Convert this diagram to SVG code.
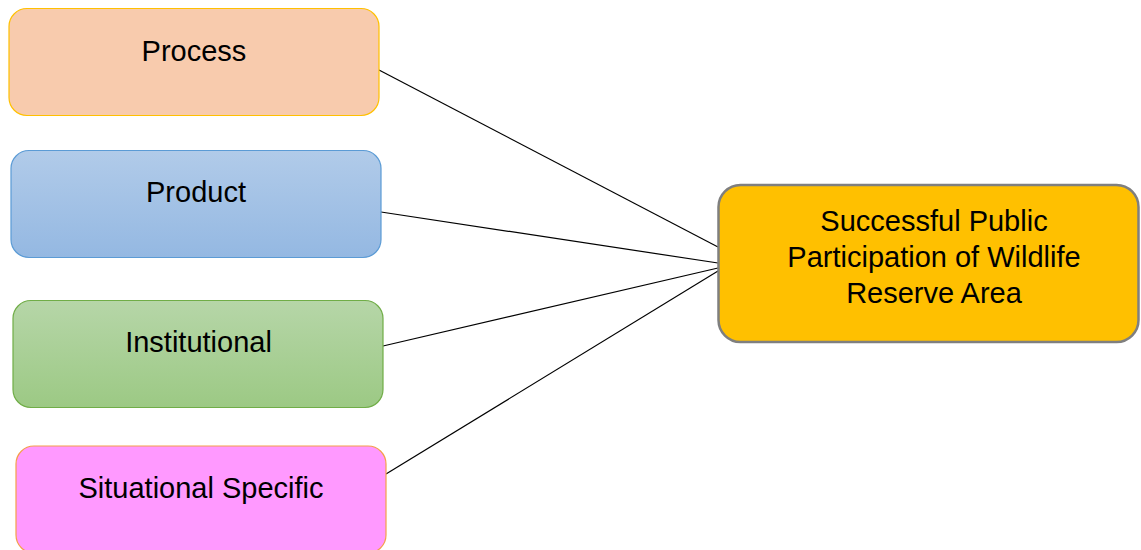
<svg xmlns="http://www.w3.org/2000/svg" width="1141" height="550" viewBox="0 0 1141 550">
<style>
.lbl{font-family:"Liberation Sans",Arial,sans-serif;font-size:29px;fill:#000;text-anchor:middle}
.box{stroke-width:1.2}
.conn line{stroke:#000;stroke-width:1.2}
</style>
<defs>
<linearGradient id="gBlue" x1="0" y1="0" x2="0" y2="1"><stop offset="0" stop-color="#B1CBE9"/><stop offset="1" stop-color="#94B8E2"/></linearGradient>
<linearGradient id="gGreen" x1="0" y1="0" x2="0" y2="1"><stop offset="0" stop-color="#B6D6A8"/><stop offset="1" stop-color="#9CC984"/></linearGradient>
</defs>
<rect width="1141" height="550" fill="#fff"/>
<g class="conn" id="connectors">
<line x1="379" y1="70" x2="718" y2="247"/>
<line x1="381" y1="212" x2="718" y2="263"/>
<line x1="383" y1="346" x2="718" y2="268"/>
<line x1="386" y1="474" x2="718" y2="271"/>
</g>
<g id="process">
<rect class="box" x="9" y="8.5" width="370" height="107" rx="18" fill="#F8CBAD" stroke="#FFC000"/>
<text class="lbl" x="194" y="61">Process</text>
</g>
<g id="product">
<rect class="box" x="11" y="150.5" width="370" height="107" rx="18" fill="url(#gBlue)" stroke="#5B9BD5"/>
<text class="lbl" x="196" y="202">Product</text>
</g>
<g id="institutional">
<rect class="box" x="13" y="300.5" width="370" height="107" rx="18" fill="url(#gGreen)" stroke="#70AD47"/>
<text class="lbl" x="198.5" y="352">Institutional</text>
</g>
<g id="situational">
<rect class="box" x="16" y="446" width="370" height="107" rx="18" fill="#FF99FF" stroke="#F4A04A"/>
<text class="lbl" x="201" y="498">Situational Specific</text>
</g>
<g id="outcome">
<rect x="718.5" y="185" width="420" height="157" rx="22" fill="#FFC000" stroke="#7F7F7F" stroke-width="2.5"/>
<text class="lbl" x="934" y="231">Successful Public</text>
<text class="lbl" x="934" y="267">Participation of Wildlife</text>
<text class="lbl" x="934" y="303">Reserve Area</text>
</g>
</svg>
